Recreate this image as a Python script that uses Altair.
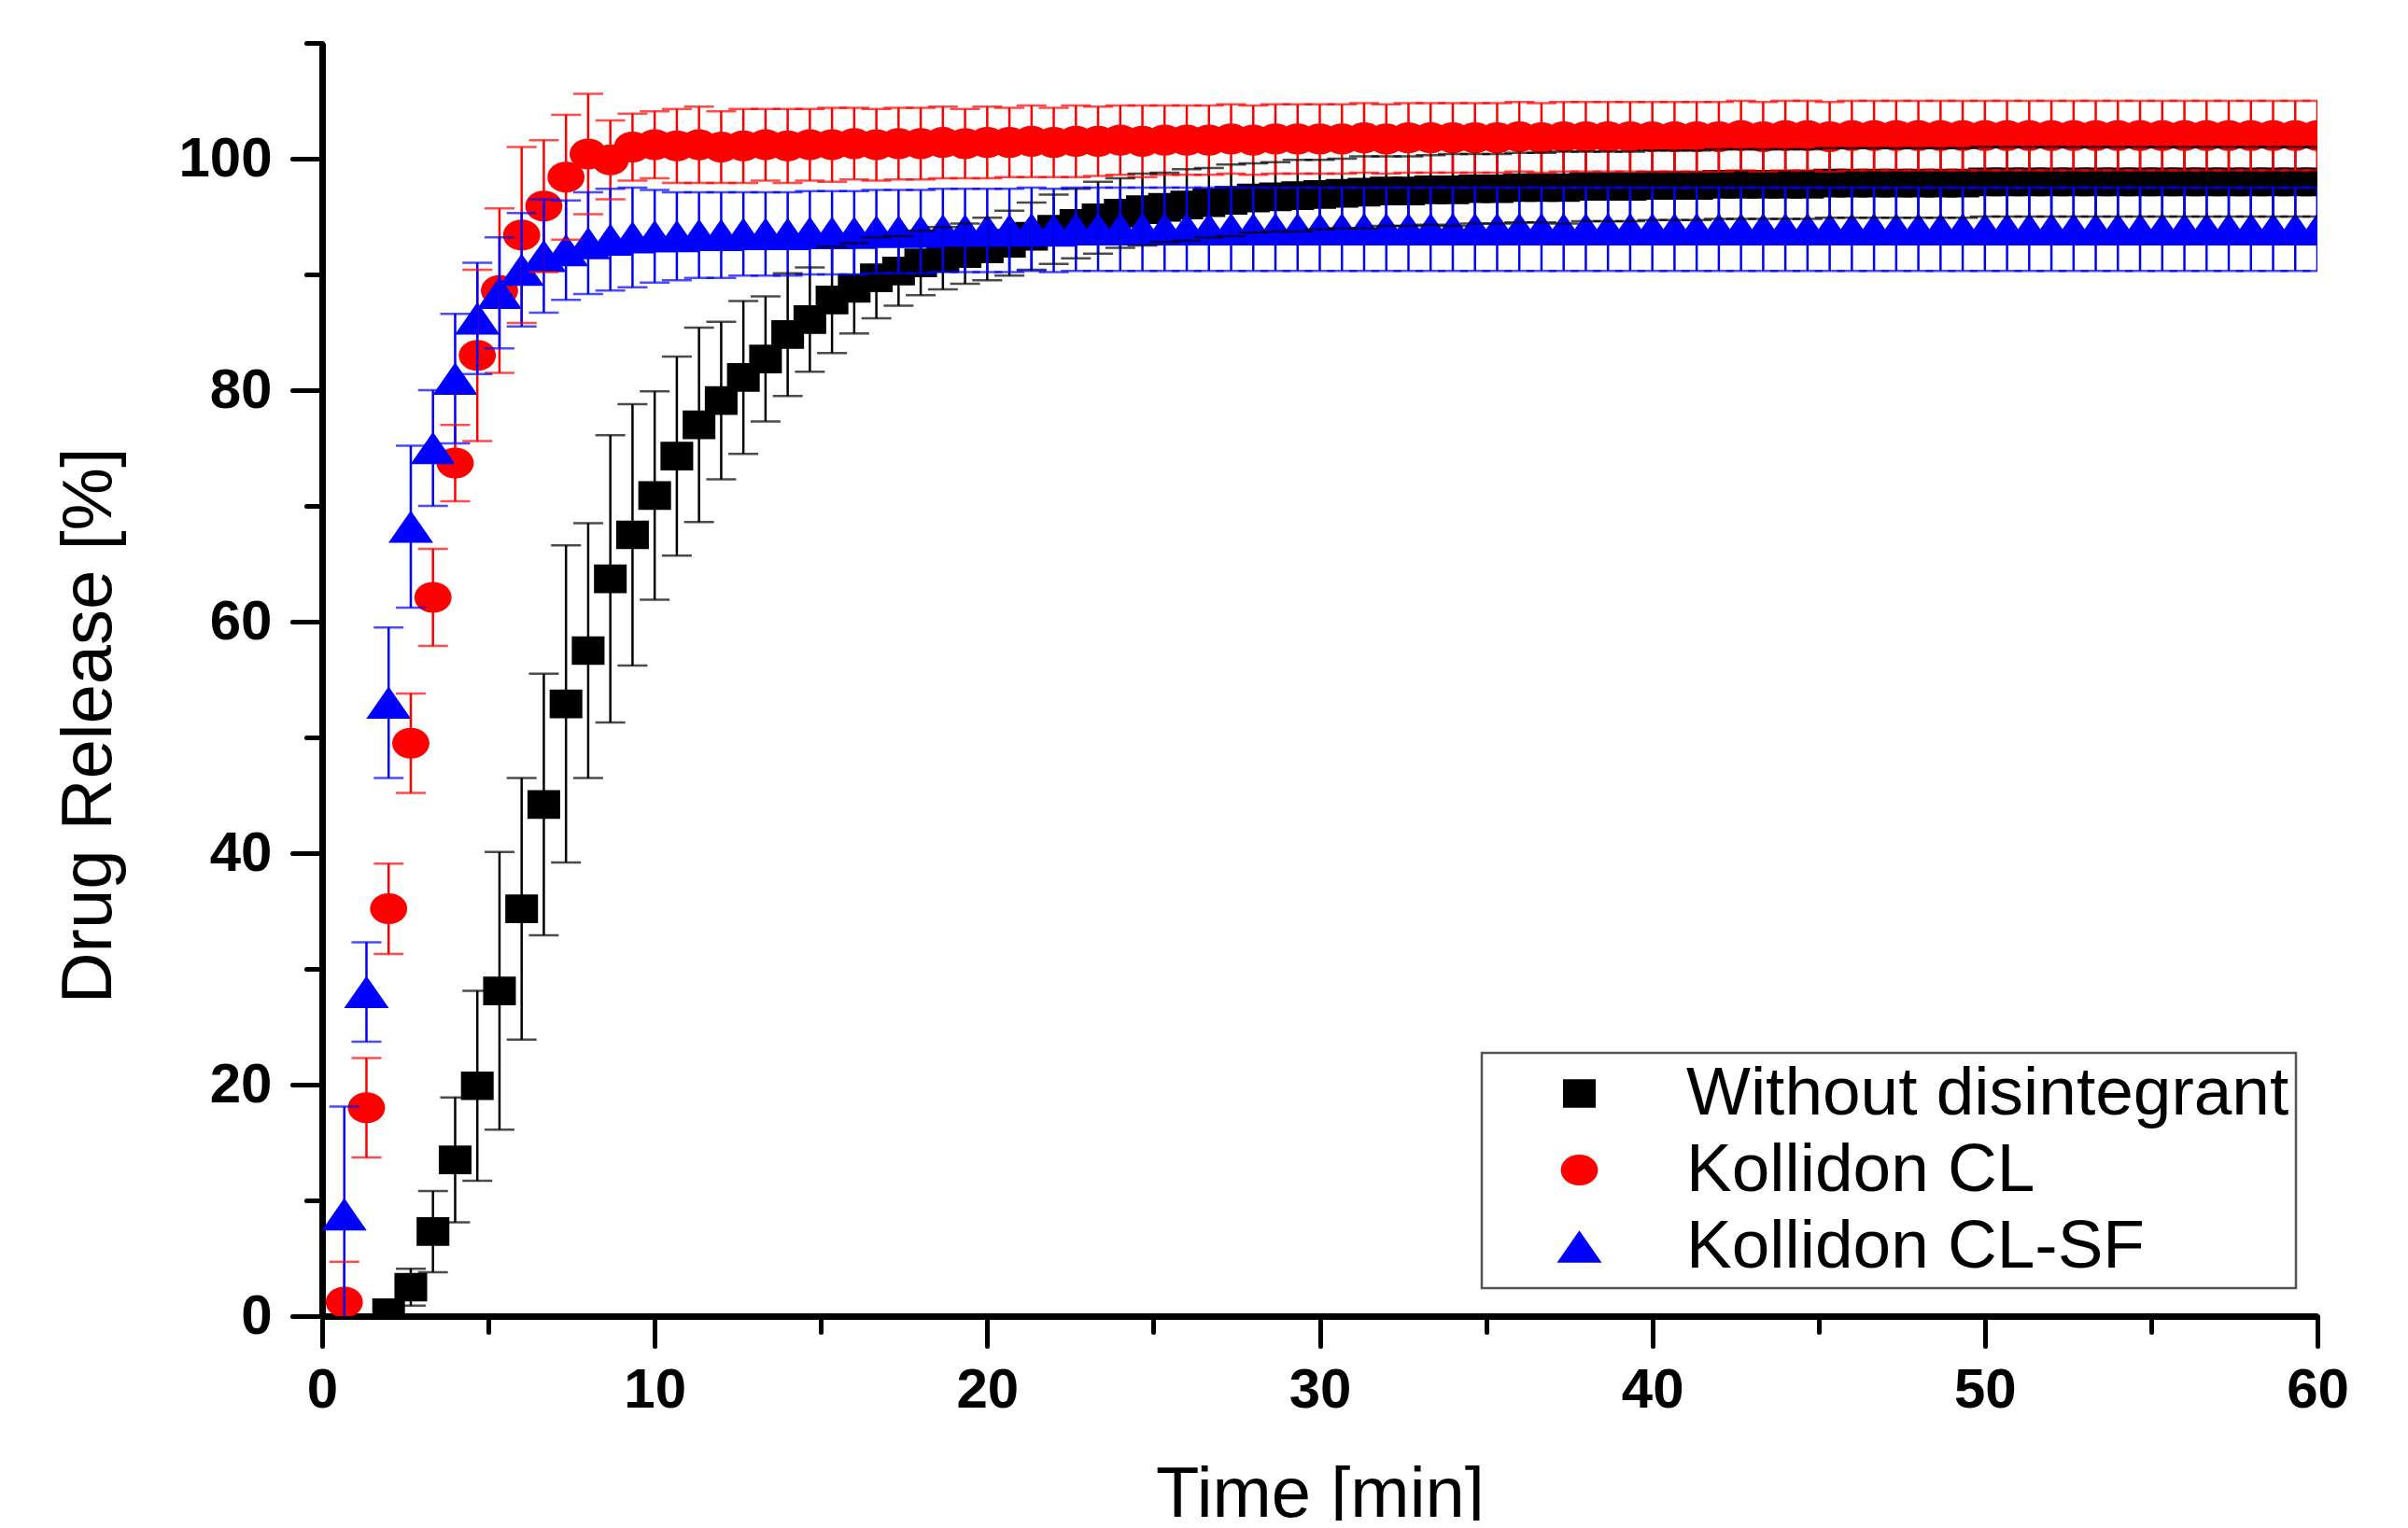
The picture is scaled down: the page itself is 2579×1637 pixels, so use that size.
import altair as alt
import pandas as pd

# ---------------- data ----------------
series_names = ["Without disintegrant", "Kollidon CL", "Kollidon CL-SF"]
series_colors = ["#000000", "#ff0000", "#0000ff"]

# sampling times in seconds (every 40 s up to 60 min)
time_s = [40, 80, 120, 160, 200, 240, 280, 320, 360, 400, 440, 480, 520, 560, 600,
          640, 680, 720, 760, 800, 840, 880, 920, 960, 1000, 1040, 1080, 1120, 1160, 1200,
          1240, 1280, 1320, 1360, 1400, 1440, 1480, 1520, 1560, 1600, 1640, 1680, 1720, 1760, 1800,
          1840, 1880, 1920, 1960, 2000, 2040, 2080, 2120, 2160, 2200, 2240, 2280, 2320, 2360, 2400,
          2440, 2480, 2520, 2560, 2600, 2640, 2680, 2720, 2760, 2800, 2840, 2880, 2920, 2960, 3000,
          3040, 3080, 3120, 3160, 3200, 3240, 3280, 3320, 3360, 3400, 3440, 3480, 3520, 3560, 3600]

# Without disintegrant: starts at 120 s
black_time_s = time_s[2:]
black_mean = [0.3, 2.5, 7.3, 13.5, 19.9, 28.1, 35.2, 44.2, 52.9, 57.5, 63.7, 67.5, 70.9, 74.3,
              77.0, 79.1, 81.1, 82.7, 84.8, 86.1, 87.8, 88.8, 89.7, 90.3, 91.0, 91.4, 91.8, 92.2,
              92.7, 93.3, 93.9, 94.4, 94.9, 95.3, 95.6, 95.8, 96.0, 96.2, 96.4, 96.6, 96.7, 96.8,
              96.9, 97.0, 97.1, 97.2, 97.2, 97.3, 97.3, 97.4, 97.4, 97.5, 97.5, 97.5, 97.6, 97.6,
              97.6, 97.7, 97.7, 97.7, 97.8, 97.8, 97.8, 97.8, 97.8, 97.9, 97.9, 97.9, 97.9, 97.9,
              97.9, 97.9, 98.0, 98.0, 98.0, 98.0, 98.0, 98.0, 98.0, 98.0, 98.0, 98.0, 98.0, 98.0,
              98.0, 98.0, 98.0, 98.0]
black_sd = [0.5, 1.6, 3.5, 5.4, 8.2, 12.0, 11.3, 11.3, 13.7, 11.0, 12.4, 11.3, 9.0, 8.6,
            8.4, 6.8, 6.6, 5.4, 5.3, 4.5, 4.6, 3.9, 3.5, 3.0, 2.8, 2.7, 2.6, 2.7,
            2.8, 2.9, 3.0, 3.0, 3.1, 3.0, 3.1, 3.0, 3.1, 3.0, 3.1, 3.0, 3.0, 3.1,
            3.0, 3.0, 3.1, 3.0, 3.0, 3.0, 3.1, 3.0, 3.0, 3.0, 3.0, 3.1, 3.0, 3.0,
            3.0, 3.0, 3.0, 3.0, 3.0, 3.0, 3.0, 3.0, 3.0, 3.0, 3.0, 3.0, 3.0, 3.0,
            3.0, 3.0, 3.0, 3.0, 3.0, 3.0, 3.0, 3.0, 3.0, 3.0, 3.0, 3.0, 3.0, 3.0,
            3.0, 3.0, 3.0, 3.0]

red_mean = [1.2, 18.0, 35.2, 49.5, 62.1, 73.7, 83.0, 88.6, 93.4, 95.9, 98.4, 100.4, 99.9, 101.0,
            101.2, 101.1, 101.2, 101.0, 101.1, 101.2, 101.1, 101.2, 101.2, 101.3, 101.2, 101.3,
            101.3, 101.4, 101.3, 101.4, 101.4, 101.5, 101.4, 101.5, 101.5, 101.6, 101.5, 101.6,
            101.6, 101.6, 101.7, 101.6, 101.7, 101.7, 101.7, 101.7, 101.8, 101.7, 101.8, 101.8,
            101.8, 101.8, 101.8, 101.9, 101.8, 101.9, 101.9, 101.9, 101.9, 101.9, 101.9, 101.9,
            101.9, 102.0, 101.9, 102.0, 102.0, 101.9, 102.0, 102.0, 102.0, 102.0, 102.0, 102.0,
            102.0, 102.0, 102.0, 102.0, 102.0, 102.0, 102.0, 102.0, 102.0, 102.0, 102.0, 102.0,
            102.0, 102.0, 102.0, 102.0]
red_sd = [3.5, 4.3, 3.9, 4.3, 4.2, 3.3, 7.4, 7.1, 7.6, 5.7, 5.4, 5.2, 3.4, 2.9,
          2.9, 3.2, 3.3, 3.1, 3.2, 3.1, 3.2, 3.1, 3.2, 3.1, 3.1, 3.1, 3.1, 3.1,
          3.0, 3.1, 3.0, 3.1, 3.0, 3.1, 3.0, 3.0, 3.1, 3.0, 3.0, 3.0, 3.0, 3.0,
          3.0, 3.0, 3.0, 3.0, 3.0, 3.0, 3.0, 3.0, 3.0, 3.0, 3.0, 3.0, 3.0, 3.0,
          3.0, 3.0, 3.0, 3.0, 3.0, 3.0, 3.0, 3.0, 3.0, 3.0, 3.0, 3.0, 3.0, 3.0,
          3.0, 3.0, 3.0, 3.0, 3.0, 3.0, 3.0, 3.0, 3.0, 3.0, 3.0, 3.0, 3.0, 3.0,
          3.0, 3.0, 3.0, 3.0, 3.0, 3.0]

blue_mean = [8.8, 28.0, 53.0, 68.2, 75.0, 81.0, 86.2, 88.4, 90.4, 91.6, 92.1, 92.7, 93.0, 93.2,
             93.3, 93.3, 93.4, 93.4, 93.5, 93.5, 93.5, 93.6, 93.6, 93.6, 93.7, 93.7, 93.7, 93.8,
             93.8, 93.8, 93.8, 93.9, 93.8, 93.9, 93.9, 93.9, 93.9, 93.9, 93.9, 93.9, 93.9, 93.9,
             93.9, 93.9, 93.9, 93.9, 93.9, 93.9, 93.9, 93.9, 93.9, 93.9, 93.9, 93.9, 93.9, 93.9,
             93.9, 93.9, 93.9, 93.9, 93.9, 93.9, 93.9, 93.9, 93.9, 93.9, 93.9, 93.9, 93.9, 93.9,
             93.9, 93.9, 93.9, 93.9, 93.9, 93.9, 93.9, 93.9, 93.9, 93.9, 93.9, 93.9, 93.9, 93.9,
             93.9, 93.9, 93.9, 93.9, 93.9, 93.9]
blue_sd = [9.3, 4.3, 6.5, 7.0, 5.0, 5.6, 4.8, 4.8, 4.9, 4.9, 4.3, 4.4, 4.4, 4.3,
           4.0, 3.8, 3.7, 3.7, 3.6, 3.6, 3.6, 3.6, 3.6, 3.6, 3.6, 3.6, 3.6, 3.6,
           3.6, 3.6, 3.6, 3.6, 3.6, 3.6, 3.6, 3.6, 3.6, 3.6, 3.6, 3.6, 3.6, 3.6,
           3.6, 3.6, 3.6, 3.6, 3.6, 3.6, 3.6, 3.6, 3.6, 3.6, 3.6, 3.6, 3.6, 3.6,
           3.6, 3.6, 3.6, 3.6, 3.6, 3.6, 3.6, 3.6, 3.6, 3.6, 3.6, 3.6, 3.6, 3.6,
           3.6, 3.6, 3.6, 3.6, 3.6, 3.6, 3.6, 3.6, 3.6, 3.6, 3.6, 3.6, 3.6, 3.6,
           3.6, 3.6, 3.6, 3.6, 3.6, 3.6]

x_ticks = [0, 5, 10, 15, 20, 25, 30, 35, 40, 45, 50, 55, 60]
y_ticks = [0, 10, 20, 30, 40, 50, 60, 70, 80, 90, 100, 110]

# ---------------- table ----------------
rows = []
for name, ts, ms, sds in [
    (series_names[0], black_time_s, black_mean, black_sd),
    (series_names[1], time_s, red_mean, red_sd),
    (series_names[2], time_s, blue_mean, blue_sd),
]:
    for t, m, s in zip(ts, ms, sds):
        rows.append({"series": name, "time": t / 60.0, "value": m,
                     "lo": m - s, "hi": m + s})
df = pd.DataFrame(rows)
caps = df.melt(id_vars=["series", "time"], value_vars=["lo", "hi"],
               var_name="side", value_name="cap")

# marker shapes (slightly wide, like the reference); [-1,1] -> sqrt(size)
square_path = "M-0.73,-0.64H0.73V0.64H-0.73Z"
ellipse_path = "M-0.83,0A0.83,0.69 0 1,0 0.83,0A0.83,0.69 0 1,0 -0.83,0Z"
triangle_path = "M0,-0.72L1,0.72L-1,0.72Z"
series_shapes = [square_path, ellipse_path, triangle_path]

FONT = "Liberation Sans"

x_axis = alt.Axis(
    values=x_ticks,
    labelExpr="datum.value % 10 === 0 ? datum.label : ''",
    tickSize={"condition": {"test": "datum.value % 10 === 0", "value": 32}, "value": 17},
    title="Time [min]",
    titleY=214,
    titleBaseline="alphabetic",
    labelFlush=False,
    labelOverlap=False,
    labelPadding=18,
    grid=False,
)
y_axis = alt.Axis(
    values=y_ticks,
    labelExpr="(datum.value % 20 === 0 && datum.value <= 100) ? datum.label : ''",
    tickSize={"condition": {"test": "datum.value % 20 === 0 && datum.value <= 100", "value": 32}, "value": 17},
    title="Drug Release [%]",
    titleX=-227,
    titleY=731,
    titleBaseline="alphabetic",
    labelOverlap=False,
    labelPadding=22,
    grid=False,
)

x_enc = alt.X("time:Q", scale=alt.Scale(domain=[0, 60], nice=False, zero=False), axis=x_axis)
y_scale = alt.Scale(domain=[0, 110], nice=False)

legend = alt.Legend(
    orient="none", legendX=1242, legendY=1082,
    padding=7, symbolOffset=61, labelOffset=78, rowPadding=8,
    labelFontSize=73, labelFont=FONT, labelLimit=1500,
    labelExpr="datum.label + '\u00a0\u00a0'",
    symbolSize=2304, symbolStrokeWidth=0, symbolOpacity=1,
    strokeColor="#555555", fillColor="#ffffff",
)

color_leg = alt.Color("series:N", scale=alt.Scale(domain=series_names, range=series_colors),
                      legend=legend, title=None)
color_noleg = alt.Color("series:N", scale=alt.Scale(domain=series_names, range=series_colors),
                        legend=None)
shape_enc = alt.Shape("series:N", scale=alt.Scale(domain=series_names, range=series_shapes),
                      legend=legend, title=None)

base = alt.Chart(df)

points = base.mark_point(filled=True, size=2304, opacity=1, strokeWidth=0, clip=True).encode(
    x=x_enc,
    y=alt.Y("value:Q", scale=y_scale, axis=y_axis),
    color=color_leg,
    shape=shape_enc,
)

bars = base.mark_rule(strokeWidth=2.5, clip=True).encode(
    x=x_enc,
    y=alt.Y("lo:Q", scale=y_scale, axis=y_axis),
    y2="hi:Q",
    color=color_noleg,
)

cap_marks = alt.Chart(caps).mark_tick(orient="horizontal", size=32, thickness=2.5, clip=True).encode(
    x=x_enc,
    y=alt.Y("cap:Q", scale=y_scale, axis=y_axis),
    color=color_noleg,
)

chart = alt.layer(points, bars, cap_marks).properties(
    width=2137,
    height=1364,
    autosize=alt.AutoSizeParams(type="none"),
    padding={"left": 337, "top": 38, "right": 89, "bottom": 219},
).configure_view(
    stroke=None
).configure_axis(
    domainColor="#000000",
    domainWidth=7,
    tickColor="#000000",
    tickWidth=5,
    tickCap="round",
    labelFont=FONT,
    labelFontSize=60,
    labelFontWeight="bold",
    labelColor="#000000",
    titleFont=FONT,
    titleFontSize=76,
    titleFontWeight="normal",
    titleColor="#000000",
).configure_legend(
    strokeWidth=2.5,
)

chart.save("out.html", embed_options={"renderer": "svg", "actions": False})
